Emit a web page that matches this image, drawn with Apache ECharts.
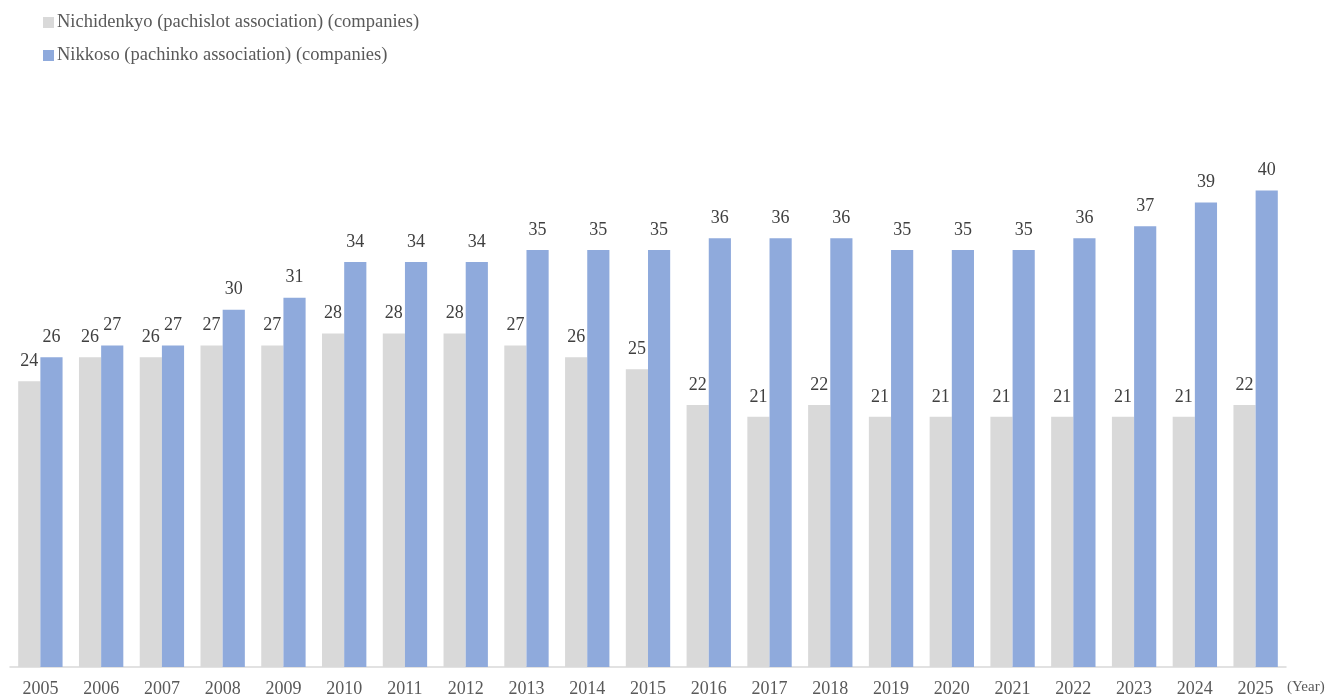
<!DOCTYPE html>
<html><head><meta charset="utf-8">
<script src="https://cdn.jsdelivr.net/npm/echarts@6/dist/echarts.min.js"></script>
<style>html,body{margin:0;padding:0;background:#fff}#c{width:1329px;height:698px}</style>
</head><body><div id="c"></div>
<script>
const years = ['2005','2006','2007','2008','2009','2010','2011','2012','2013','2014','2015','2016','2017','2018','2019','2020','2021','2022','2023','2024','2025'];
const nichidenkyo = [24,26,26,27,27,28,28,28,27,26,25,22,21,22,21,21,21,21,21,21,22];
const nikkoso = [26,27,27,30,31,34,34,34,35,35,35,36,36,36,35,35,35,36,37,39,40];
const seriesNames = ['Nichidenkyo (pachislot association) (companies)','Nikkoso (pachinko association) (companies)'];
const FONT = '"Liberation Serif","Times New Roman",serif';
const chart = echarts.init(document.getElementById('c'));
const lbl = {show:true, position:'top', distance:11, color:'#404040', fontSize:18, fontFamily:FONT};
chart.setOption({
  animation:false,
  textStyle:{fontFamily:FONT},
  legend:{orient:'vertical', left:38, top:8, itemWidth:11, itemHeight:11, itemGap:14, icon:'rect',
    textStyle:{fontFamily:FONT, fontSize:18.5, color:'#595959', padding:[0,0,0,-2]}, data:seriesNames},
  grid:{left:10, right:43, top:131, bottom:31},
  xAxis:{type:'category', data:years,
    axisLine:{lineStyle:{color:'#d9d9d9', width:1.5}},
    axisTick:{inside:true, length:5, lineStyle:{color:'#d9d9d9', width:1.5}},
    axisLabel:{color:'#595959', fontSize:18, fontFamily:FONT, margin:13},
    name:'(Year)', nameLocation:'end', nameGap:1,
    nameTextStyle:{color:'#595959', fontSize:15, fontFamily:FONT, align:'left', verticalAlign:'top', padding:[13,0,0,0]}},
  yAxis:{type:'value', min:0, max:45, show:false, splitLine:{show:false}},
  series:[
    {name:seriesNames[0], type:'bar', data:nichidenkyo, barGap:'0%', barCategoryGap:'27%', itemStyle:{color:'#d9d9d9'}, label:lbl},
    {name:seriesNames[1], type:'bar', data:nikkoso, barGap:'0%', barCategoryGap:'27%', itemStyle:{color:'#8faadc'}, label:lbl}
  ]
});
</script></body></html>
